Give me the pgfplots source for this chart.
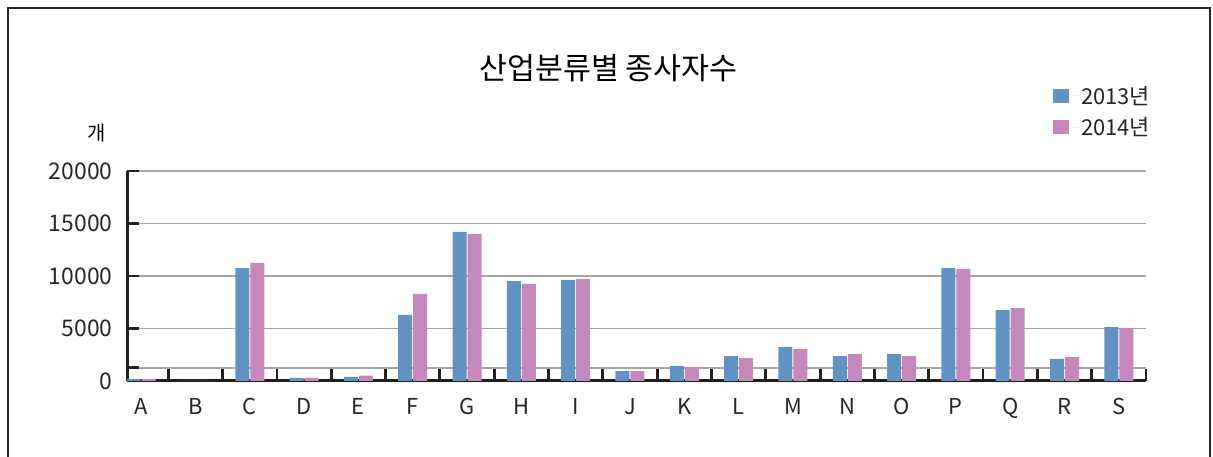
\documentclass[border=0pt]{standalone}
\usepackage{fontspec}
\setmainfont{Noto Sans CJK KR}
\usepackage{pgfplots}
\pgfplotsset{compat=1.18}
\definecolor{barblue}{RGB}{98,146,196}
\definecolor{barpink}{RGB}{197,136,186}
\definecolor{axisdark}{RGB}{35,31,32}
\definecolor{gridgray}{RGB}{165,165,165}
\begin{document}
\begin{tikzpicture}[x=1bp,y=1bp]
\useasboundingbox (0,0) rectangle (1213,457);
\draw[line width=2.5bp, black!85] (8,-5) -- (8,449) -- (1210,449) -- (1210,-5);
\node[font=\fontsize{30.5}{34}\selectfont] at (608.5,389) {산업분류별 종사자수};
\node[font=\fontsize{20}{24}\selectfont] at (97,324) {개};
\begin{axis}[
  at={(127bp,76bp)}, anchor=south west,
  scale only axis, width=1019bp, height=210bp,
  xmin=-0.26, xmax=18.5, ymin=0, ymax=20000,
  axis lines*=left,
  axis line style={line width=3bp, axisdark},
  tick align=inside,
  major tick length=12bp, minor tick length=13bp,
  scaled y ticks=false,
  ytick={0,5000,10000,15000,20000},
  yticklabels={0,5000,10000,15000,20000},
  extra y ticks={1250}, extra y tick labels={},
  extra y tick style={grid=major},
  ymajorgrids,
  grid style={gridgray, line width=1.6bp},
  tick style={axisdark, line width=2.8bp},
  xtick={0,...,18},
  xticklabels={A,B,C,D,E,F,G,H,I,J,K,L,M,N,O,P,Q,R,S},
  major x tick style={draw=none},
  minor x tick style={yshift=13bp},
  minor x tick num=1,
  extra x ticks={18.5}, extra x tick labels={},
  extra x tick style={major x tick style={draw=axisdark, line width=2.8bp, yshift=12bp}},
  /pgf/number format/assume math mode=true,
  xticklabel style={font=\fontsize{22}{26}\selectfont, yshift=-2bp, text=black!85},
  yticklabel style={font=\fontsize{23}{27}\selectfont, xshift=-11bp, text=black!85},
  ybar=1bp, bar width=14bp,
  legend style={at={(0.909,1.405)}, anchor=north west, draw=none, fill=none,
    inner sep=0pt, outer sep=0pt, font=\fontsize{22}{26}\selectfont,
    nodes={inner sep=0pt, text=black!85}, row sep=12bp},
  legend cell align=left,
  legend image code/.code={\fill[#1, draw=none] (0bp,-7bp) rectangle (16bp,7bp); \path (0bp,0bp) -- (28bp,0bp);},
]
\addplot[fill=barblue, draw=none] coordinates {
(0,200) (1,0) (2,10760) (3,300) (4,400) (5,6290) (6,14190) (7,9520) (8,9620)
(9,950) (10,1430) (11,2380) (12,3240) (13,2380) (14,2570) (15,10760) (16,6760)
(17,2100) (18,5140)};
\addplot[fill=barpink, draw=none] coordinates {
(0,200) (1,0) (2,11240) (3,300) (4,500) (5,8290) (6,14000) (7,9240) (8,9710)
(9,950) (10,1330) (11,2190) (12,3050) (13,2570) (14,2380) (15,10670) (16,6950)
(17,2290) (18,5050)};
\legend{2013년, 2014년}
\end{axis}
\end{tikzpicture}
\end{document}
